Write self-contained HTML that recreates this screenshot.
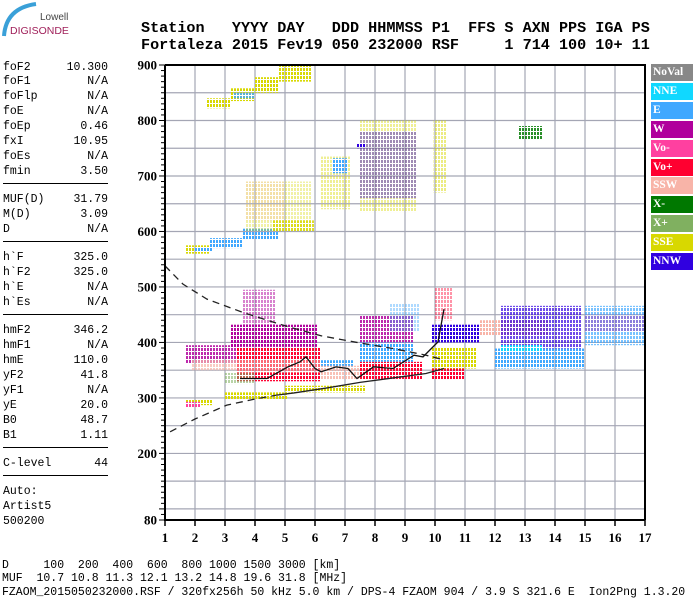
<!DOCTYPE html>
<html><head><meta charset="utf-8">
<style>
html,body{margin:0;padding:0;background:#fff;}
body{width:700px;height:600px;position:relative;overflow:hidden;font-family:"Liberation Mono",monospace;}
.hdr{position:absolute;left:141px;font:bold 15.15px "Liberation Mono",monospace;white-space:pre;color:#000;line-height:16px;}
.lp{position:absolute;left:3px;width:105px;font-size:11.5px;line-height:13px;color:#000;}
.lp span.v{position:absolute;right:0;top:0;}
.sep{position:absolute;left:3px;width:105px;height:0;border-top:1.5px solid #000;}
.bot{position:absolute;left:2px;font-size:11.5px;white-space:pre;line-height:13px;color:#000;}
.leg{position:absolute;left:651px;width:42px;height:17px;font:bold 11.5px "Liberation Serif",serif;color:#fff;line-height:17px;padding-left:2px;box-sizing:border-box;}
</style></head>
<body>
<div style="position:absolute;left:0;top:0;width:75px;height:40px;">
<svg width="75" height="40"><path d="M4 36 Q6 8 36 4" stroke="#3aa0d8" stroke-width="4" fill="none"/></svg>
<div style="position:absolute;left:40px;top:12px;font:10px 'Liberation Sans',sans-serif;color:#444;">Lowell</div>
<div style="position:absolute;left:10px;top:25px;font:10.5px 'Liberation Sans',sans-serif;color:#a0205a;">DIGISONDE</div>
</div>
<div class="hdr" style="top:20px;">Station   YYYY DAY   DDD HHMMSS P1  FFS S AXN PPS IGA PS</div>
<div class="hdr" style="top:37px;">Fortaleza 2015 Fev19 050 232000 RSF     1 714 100 10+ 11</div>

<div id="leftpanel"></div>

<svg id="chart" width="700" height="600" style="position:absolute;left:0;top:0;"></svg>

<div id="legend"></div>

<div class="bot" style="top:559px;">D     100  200  400  600  800 1000 1500 3000 [km]</div>
<div class="bot" style="top:572px;">MUF  10.7 10.8 11.3 12.1 13.2 14.8 19.6 31.8 [MHz]</div>
<div class="bot" style="top:586px;">FZAOM_2015050232000.RSF / 320fx256h 50 kHz 5.0 km / DPS-4 FZAOM 904 / 3.9 S 321.6 E  Ion2Png 1.3.20</div>

<script>
// ---- chart data ----
const freqTicks = [1,2,3,4,5,6,7,8,9,10,11,12,13,14,15,16,17];
const heightTicks = [900,800,700,600,500,400,300,200,80];
const legendNames = ["NoVal","NNE","E","W","Vo-","Vo+","SSW","X-","X+","SSE","NNW"];
const legendColors = ["#888888","#10d8ff","#40a8ff","#b0009c","#ff40a0","#ff0030","#f8b4a8","#007800","#80b060","#d8d800","#3000e0"];
// echo clusters
const cFreqLo = [1.7,1.7,3.0,5.0,1.7,1.9,3.2,3.6,3.4,3.4,3.0,6.2,6.2,7.5,7.5,7.5,8.5,9.9,9.9,9.9,10.0,11.5,12.2,12.0,12.2,15.0,15.0,
  2.4,3.2,3.3,4.0,4.8,1.7,2.0,2.5,3.6,4.6,3.7,3.7,6.2,6.6,7.5,7.5,7.4,9.95,12.8];
const cFreqHi = [2.6,2.2,5.1,7.7,3.5,3.5,6.1,4.7,6.2,6.2,4.0,7.3,7.5,9.3,9.3,9.6,9.5,11.5,11.4,11.0,10.6,13.8,14.9,15.0,13.6,17.0,17.0,
  3.2,4.0,4.0,4.8,5.9,2.5,2.6,3.6,4.8,6.0,5.9,5.0,7.2,7.1,9.4,9.4,7.7,10.4,13.6];
const cHLo = [287,283,298,310,362,350,392,432,330,345,325,355,333,400,365,333,420,400,353,333,440,412,389,353,383,395,420,
  822,835,840,850,870,560,563,570,585,600,600,620,640,705,635,660,750,670,765];
const cHHi = [297,293,310,322,395,370,432,495,390,370,345,368,358,448,400,365,470,432,390,353,500,440,466,389,395,466,450,
  840,858,850,878,900,575,572,588,605,620,690,690,735,732,800,780,758,800,790];
const cColor = [9,4,9,9,3,6,3,3,5,6,8,2,6,3,2,5,2,10,9,5,5,6,10,2,1,2,3,
  9,9,2,9,9,9,2,2,2,9,9,6,9,2,9,10,10,9,7];
const cDensity = [0.9,0.8,0.8,0.8,0.6,0.5,0.7,0.35,0.7,0.4,0.4,0.85,0.6,0.6,0.75,0.7,0.3,0.85,0.8,0.8,0.3,0.8,0.5,0.75,0.9,0.5,0.25,
  0.8,0.8,0.6,0.75,0.7,0.8,0.9,0.8,0.8,0.6,0.25,0.2,0.3,0.8,0.3,0.3,1,0.35,0.6];
// black curves
const upperDashF = [1.0,1.6,2.4,3.6,5.0,6.2,7.4,8.6,9.7,10.2];
const upperDashH = [538,505,478,454,430,412,400,389,377,370];
const lowerDashF = [1.17,2.0,3.06,4.0,4.72];
const lowerDashH = [239,262,287,298,305];
const lowerSolidF = [4.72,5.3,6.4,7.5,8.6,9.7,10.3];
const lowerSolidH = [305,309,318,328,336,344,353];
const profileF = [3.5,4.4,4.6,5.1,5.5,5.7,6.0,6.2,6.7,7.1,7.4,7.95,8.6,9.3,9.6,10.1,10.3];
const profileH = [335,335,341,356,365,374,353,347,356,353,335,356,353,377,374,401,460];
// left panel
const panelNames = [["foF2","foF1","foFlp","foE","foEp","fxI","foEs","fmin"],["MUF(D)","M(D)","D"],["h`F","h`F2","h`E","h`Es"],["hmF2","hmF1","hmE","yF2","yF1","yE","B0","B1"],["C-level"],["Auto:","Artist5","500200"]];
const panelValues = [["10.300","N/A","N/A","N/A","0.46","10.95","N/A","3.50"],["31.79","3.09","N/A"],["325.0","325.0","N/A","N/A"],["346.2","N/A","110.0","41.8","N/A","20.0","48.7","1.11"],["44"],["","",""]];

// ---- axes ----
const X0=165, X1=645, Y0=65, Y1=520;
function xs(f){return X0+(f-1)*(X1-X0)/16;}
function ys(h){return Y0+(900-h)*(Y1-Y0)/820;}

const NS="http://www.w3.org/2000/svg";
const svg=document.getElementById('chart');
function mk(tag,attrs,parent){const e=document.createElementNS(NS,tag);for(const k in attrs)e.setAttribute(k,attrs[k]);(parent||svg).appendChild(e);return e;}

// dot patterns per colour
const defs=mk('defs',{});
legendColors.forEach((col,i)=>{
  const p=mk('pattern',{id:'dot'+i,width:3,height:4,patternUnits:'userSpaceOnUse'},defs);
  mk('rect',{x:0,y:0,width:2,height:3,fill:col},p);
});

// grid
for(let h=100;h<900;h+=50){
  const g=mk('line',{x1:X0,x2:X1,y1:ys(h),y2:ys(h),stroke:'#a4a6b4','stroke-width':1.2});
  
  
}
freqTicks.forEach(f=>{
  if(f>1&&f<17){const g=mk('line',{x1:xs(f),x2:xs(f),y1:Y0,y2:Y1,stroke:'#a4a6b4','stroke-width':1.2});
  
  }
});

// clusters
for(let i=0;i<cFreqLo.length;i++){
  const r=mk('rect',{x:xs(cFreqLo[i]),y:ys(cHHi[i]),width:xs(cFreqHi[i])-xs(cFreqLo[i]),height:ys(cHLo[i])-ys(cHHi[i]),fill:'url(#dot'+cColor[i]+')','fill-opacity':Math.min(1,cDensity[i]*1.4)});
  
  
}

// curves
function pts(F,H){return F.map((f,i)=>xs(f)+','+ys(H[i])).join(' ');}
let c=mk('polyline',{points:pts(upperDashF,upperDashH),fill:'none',stroke:'#222','stroke-width':1.3,'stroke-dasharray':'7,5'});


c=mk('polyline',{points:pts(lowerDashF,lowerDashH),fill:'none',stroke:'#222','stroke-width':1.3,'stroke-dasharray':'7,5'});


c=mk('polyline',{points:pts(lowerSolidF,lowerSolidH),fill:'none',stroke:'#222','stroke-width':1.3});


c=mk('polyline',{points:pts(profileF,profileH),fill:'none',stroke:'#111','stroke-width':1.3});



// frame
c=mk('path',{d:`M${X0} ${Y0}H${X1}V${Y1}M${X0} ${Y0}V${Y1}H${X1}`,fill:'none',stroke:'#000','stroke-width':2});


for(let h=80;h<=900;h+=10){
  const major=(h%100===0)||h===80;
  const t=mk('line',{x1:X0-(major?6:4),x2:X0,y1:ys(h),y2:ys(h),stroke:'#000','stroke-width':1});
  
  
}
heightTicks.forEach(h=>{
  const t=mk('text',{x:157,y:ys(h)+4.5,'text-anchor':'end','font-family':'Liberation Serif, serif','font-weight':'bold','font-size':13});
  t.textContent=h;
  
  
});
freqTicks.forEach(f=>{
  const t=mk('line',{x1:xs(f),x2:xs(f),y1:Y1,y2:Y1+6,stroke:'#000','stroke-width':1.5});
  
  
  const l=mk('text',{x:xs(f),y:542,'text-anchor':'middle','font-family':'Liberation Serif, serif','font-weight':'bold','font-size':13});
  l.textContent=f;
  
  
});

// legend
const leg=document.getElementById('legend');
legendNames.forEach((n,i)=>{
  const d=document.createElement('div');
  d.className='leg';
  d.style.top=(64+i*18.9)+'px';
  d.style.background=legendColors[i];
  d.textContent=n;
  
  
  leg.appendChild(d);
});

// left panel
const lp=document.getElementById('leftpanel');
let y=60.5; const P=14.9, S=13.4;
panelNames.forEach((grp,gi)=>{
  grp.forEach((n,i)=>{
    const d=document.createElement('div');
    d.className='lp';
    d.style.top=y+'px';
    d.textContent=n;
    
    
    const v=document.createElement('span');
    v.className='v';
    v.textContent=panelValues[gi][i];
    d.appendChild(v);
    lp.appendChild(d);
    y+=P;
  });
  if(gi<panelNames.length-1){
    const s=document.createElement('div');
    s.className='sep';
    s.style.top=(y+(S-P)/2+4)+'px';
    
    
    lp.appendChild(s);
    y+=S;
  }
});
</script>
</body></html>
